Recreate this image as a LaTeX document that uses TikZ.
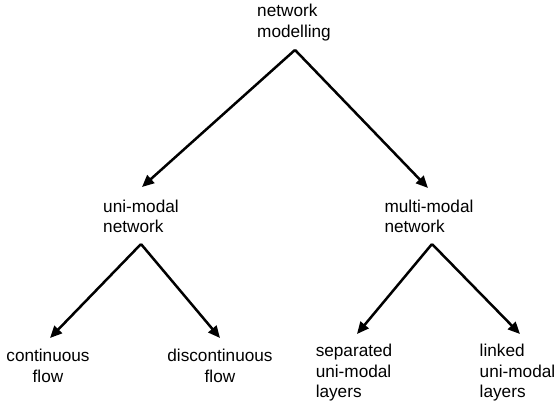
\documentclass[tikz,border=0pt]{standalone}
\usepackage{fontspec}
\setmainfont{Liberation Sans}
\usetikzlibrary{arrows.meta,calc}

\tikzset{
  term/.style={inner sep=0pt, anchor=north,
    font=\fontsize{17.2pt}{20.5pt}\selectfont},
  branch/.style={line width=2.5pt, -{Triangle[length=12pt,width=10.5pt]}}
}

\begin{document}
\begin{tikzpicture}[x=1pt,y=-1pt]
  \useasboundingbox (0,0) rectangle (557,402);

  % labels of the tree
  \node[term, align=left]   (root)  at (294,4)     {network\\modelling};
  \node[term, align=left]   (uni)   at (141,199.5) {uni-modal\\network};
  \node[term, align=left]   (multi) at (429,199.5) {multi-modal\\network};
  \node[term, align=center] (cont)  at (48,349)    {continuous\\flow};
  \node[term, align=center] (disc)  at (220,349)   {discontinuous\\flow};
  \node[term, align=left]   (sep)   at (354,344)   {separated\\uni-modal\\layers};
  \node[term, align=left]   (link)  at (517.5,344) {linked\\uni-modal\\layers};

  % fork points below each parent
  \coordinate (root-fork)  at ($(root.south)+(1,9)$);
  \coordinate (uni-fork)   at ($(uni.south)+(0,11)$);
  \coordinate (multi-fork) at ($(multi.south)+(3,11)$);

  % arrow tips above each child
  \coordinate (uni-in)   at ($(uni.north)+(1,-12.5)$);
  \coordinate (multi-in) at ($(multi.north)+(-1,-11.5)$);
  \coordinate (cont-in)  at ($(cont.north)+(2,-11)$);
  \coordinate (disc-in)  at ($(disc.north)+(0,-11)$);
  \coordinate (sep-in)   at ($(sep.north)+(3,-10)$);
  \coordinate (link-in)  at ($(link.north)+(2.5,-10)$);

  \draw[branch] (root-fork) -- (uni-in);
  \draw[branch] (root-fork) -- (multi-in);
  \draw[branch] (uni-fork) -- (cont-in);
  \draw[branch] (uni-fork) -- (disc-in);
  \draw[branch] (multi-fork) -- (sep-in);
  \draw[branch] (multi-fork) -- (link-in);
\end{tikzpicture}
\end{document}
